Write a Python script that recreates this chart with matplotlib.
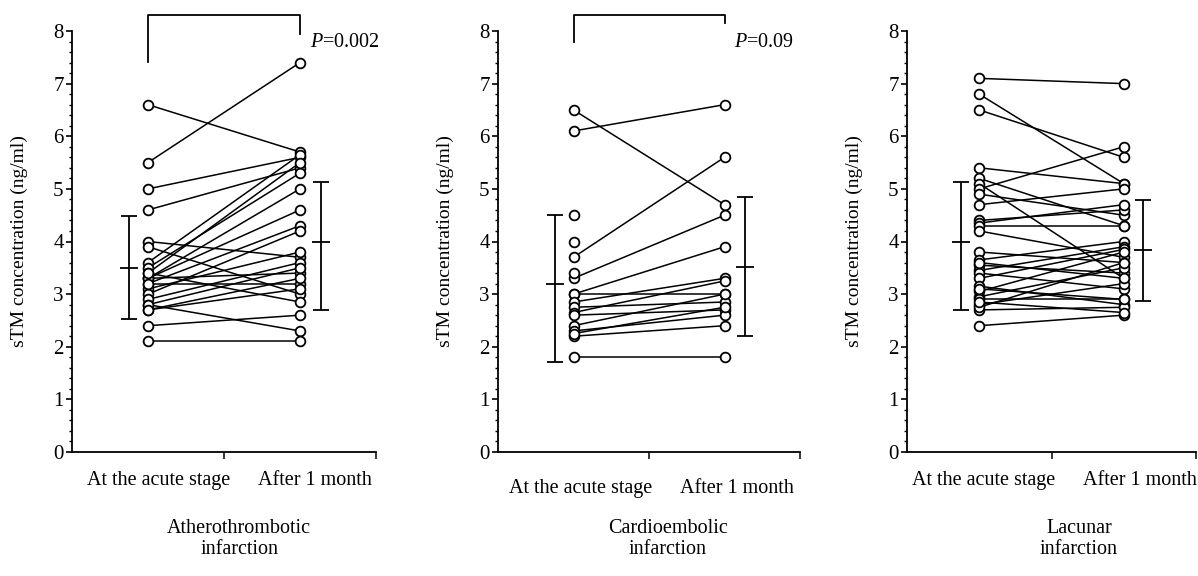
import matplotlib
matplotlib.use("Agg")
import matplotlib.pyplot as plt
from matplotlib.ticker import MultipleLocator

plt.rcParams['font.family'] = ['Liberation Serif', 'DejaVu Serif']
plt.rcParams['mathtext.fontset'] = 'custom'
plt.rcParams['mathtext.it'] = 'Liberation Serif:italic'
plt.rcParams['mathtext.rm'] = 'Liberation Serif'

stages = ["At the acute stage", "After 1 month"]
groups = ["Atherothrombotic\ninfarction", "Cardioembolic\ninfarction", "Lacunar\ninfarction"]
ylabel = "sTM concentration (ng/ml)"

# paired sTM values (ng/ml): acute stage -> after 1 month
athero_acute = [6.6, 5.5, 5.0, 4.6, 4.0, 3.9, 3.6, 3.5, 3.4, 3.3, 3.3, 3.2,
                3.3, 3.1, 3.0, 2.9, 2.8, 3.2, 2.7, 3.4, 2.8, 2.4, 2.1, 2.7]
athero_month = [5.7, 7.4, 5.6, 5.4, 3.7, 3.0, 5.65, 5.3, 5.5, 5.0, 4.6, 4.3,
                3.4, 3.8, 4.2, 3.6, 3.5, 3.2, 3.1, 2.85, 2.3, 2.6, 2.1, 3.3]

cardio_acute = [6.5, 6.1, 3.7, 3.3, 3.0, 3.0, 2.85, 2.75, 2.65, 2.6, 2.4,
                2.3, 2.2, 2.25, 1.8]
cardio_month = [4.7, 6.6, 5.6, 4.5, 3.9, 3.0, 3.3, 2.85, 3.25, 2.7, 3.0,
                2.6, 2.4, 2.75, 1.8]
cardio_acute_only = [4.5, 4.0, 3.4]

lacunar_acute = [7.1, 6.8, 6.5, 5.4, 5.2, 5.1, 5.0, 4.9, 4.7, 4.4, 4.35, 4.3,
                 4.2, 3.8, 3.65, 3.55, 3.45, 3.4, 3.3, 3.15, 3.05, 2.95, 2.9,
                 2.8, 2.7, 2.4, 3.1, 3.6, 2.75, 2.85]
lacunar_month = [7.0, 5.1, 5.6, 5.1, 4.3, 3.3, 5.8, 4.5, 5.0, 4.6, 4.7, 4.3,
                 3.7, 3.6, 4.0, 3.4, 3.9, 3.1, 3.85, 2.8, 3.8, 3.5, 2.9,
                 3.2, 2.75, 2.6, 2.9, 3.3, 3.6, 2.65]

# mean and bar ends (low, mean, high) for each column
athero_bars = [(2.53, 3.5, 4.48), (2.7, 4.0, 5.14)]
cardio_bars = [(1.71, 3.2, 4.5), (2.2, 3.52, 4.84)]
lacunar_bars = [(2.69, 4.0, 5.13), (2.86, 3.83, 4.79)]

# comparison bracket: left leg end, right leg end, p value
athero_bracket = (7.42, 7.95, "0.002")
cardio_bracket = (7.8, 8.15, "0.09")

panels = [
    (athero_acute, athero_month, [], athero_bars, athero_bracket),
    (cardio_acute, cardio_month, cardio_acute_only, cardio_bars, cardio_bracket),
    (lacunar_acute, lacunar_month, [], lacunar_bars, None),
]

W, H = 1198, 576
fig = plt.figure(figsize=(W / 100, H / 100), dpi=100)
lefts = [72, 498, 907]
widths = [304, 302, 289]
top, bottom = 31, 452
# label placement per panel (x of stage labels, y of stage labels, x of group label)
stage_x = [(1.14, 3.2), (1.1, 3.17), (1.06, 3.22)]
stage_y = [-0.55, -0.7, -0.55]
group_x = [2.2, 2.25, 2.38]

for i, (acute, month, only, bars, bracket) in enumerate(panels):
    ax = fig.add_axes([lefts[i] / W, 1 - bottom / H, widths[i] / W, (bottom - top) / H])
    for a, m in zip(acute, month):
        ax.plot([1, 3], [a, m], color='black', lw=1.1, zorder=2)
    xs = [1] * len(acute) + [3] * len(month) + [1] * len(only)
    ys = list(acute) + list(month) + list(only)
    ax.plot(xs, ys, 'o', ms=7, mfc='white', mec='black', mew=1.3, zorder=3)

    for x, (lo, mean, hi) in zip([0.75, 3.27], bars):
        ax.errorbar([x], [mean], yerr=[[mean - lo], [hi - mean]], fmt='none',
                    ecolor='black', elinewidth=1.3, capsize=6, capthick=1.3)
        ax.plot([x], [mean], '_', color='black', ms=13, mew=1.3)

    if bracket is not None:
        l_end, r_end, p = bracket
        ax.plot([1, 1, 3, 3], [l_end, 8.3, 8.3, r_end], color='black', lw=1.3,
                clip_on=False)
        ax.text(3.13, 7.78, r"$P$=" + p, fontsize=14.5, ha='left', va='center')

    ax.set_xlim(0, 4)
    ax.set_ylim(0, 8)
    ax.spines['top'].set_visible(False)
    ax.spines['right'].set_visible(False)
    ax.spines['left'].set_linewidth(1.3)
    ax.spines['bottom'].set_linewidth(1.3)
    ax.set_xticks([2, 4])
    ax.set_xticklabels([])
    ax.tick_params(axis='x', direction='out', length=5, width=1.1)
    ax.set_yticks(range(0, 9))
    ax.yaxis.set_minor_locator(MultipleLocator(0.2))
    ax.tick_params(axis='y', which='major', direction='out', length=4, width=1.2,
                   pad=2, labelsize=15)
    ax.tick_params(axis='y', which='minor', direction='out', length=2, width=1)
    ax.set_ylabel(ylabel, fontsize=14)
    ax.yaxis.set_label_coords(-44 / widths[i], 0.5)

    for x, s in zip(stage_x[i], stages):
        ax.text(x, stage_y[i], s, fontsize=14.5, ha='center', va='center', clip_on=False)
    ax.text(group_x[i], -1.65, groups[i], fontsize=14.5, ha='center', va='center',
            linespacing=1.15, clip_on=False)

fig.savefig("out.png", dpi=100)
